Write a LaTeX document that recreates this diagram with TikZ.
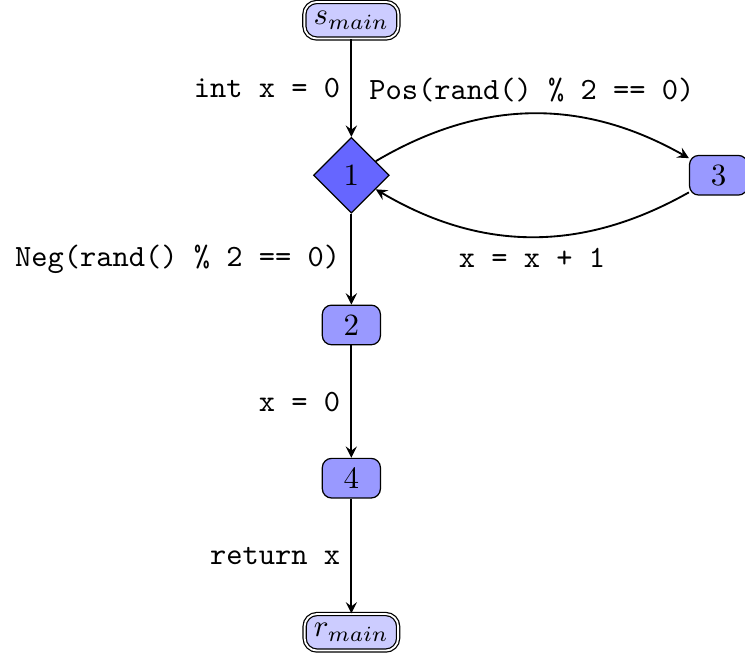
\documentclass[tikz,border=0pt]{standalone}
\usepackage{tikz}
\usetikzlibrary{arrows,shapes.geometric}
\tikzset{
	endpt/.style={draw, double, rounded corners=4pt, fill=blue!20, inner sep=3pt, minimum height=0.4cm},
	stmt/.style={draw, rounded corners=3pt, fill=blue!40, minimum width=0.66cm, minimum height=0.45cm, inner sep=1pt},
	cond/.style={draw, diamond, fill=blue!60, minimum size=0.86cm, inner sep=0pt},
	flow/.style={->, >=stealth, semithick},
	lbl/.style={font=\ttfamily}
}

\begin{document}
\begin{tikzpicture}
		%%%%% START %%%%%
		\useasboundingbox (0, 0) rectangle (8.46, -7.415);
		
		\node[endpt] (smain) at (3.99, -0.23) {$s_{main}$};
		\node[cond] (n1) at (3.99, -1.99) {1};
		\node[stmt] (n3) at (8.16, -1.99) {3};
		\node[stmt] (n2) at (3.99, -3.69) {2};
		\node[stmt] (n4) at (3.99, -5.43) {4};
		\node[endpt] (rmain) at (3.99, -7.18) {$r_{main}$};
		
		\draw[flow] (smain) -- node[lbl, left] {int x = 0} (n1);
		\draw[flow] (n1) to[bend left=30] node[lbl, above] {Pos(rand() \% 2 == 0)} (n3);
		\draw[flow] (n3) to[bend left=30] node[lbl, below] {x = x + 1} (n1);
		\draw[flow] (n1) -- node[lbl, left] {Neg(rand() \% 2 == 0)} (n2);
		\draw[flow] (n2) -- node[lbl, left] {x = 0} (n4);
		\draw[flow] (n4) -- node[lbl, left] {return x} (rmain);
		
		%%%%% END %%%%%
	\end{tikzpicture}
\end{document}
